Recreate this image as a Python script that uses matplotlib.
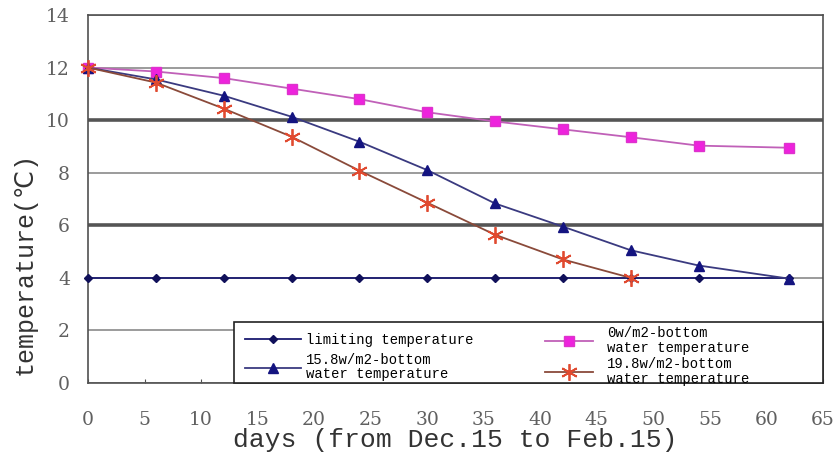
import matplotlib
matplotlib.use("Agg")
import matplotlib.pyplot as plt
from matplotlib.patches import Rectangle

# Days since Dec. 15 at which the water temperature was evaluated
days = [0, 6, 12, 18, 24, 30, 36, 42, 48, 54, 62]

limiting_temp = [4, 4, 4, 4, 4, 4, 4, 4, 4, 4, 4]
bottom_0w = [12.0, 11.85, 11.6, 11.2, 10.8, 10.3, 9.95, 9.65, 9.35, 9.03, 8.95]
bottom_15_8w = [12.0, 11.55, 10.93, 10.13, 9.18, 8.1, 6.83, 5.95, 5.05, 4.47, 3.97]
days_19_8w = [0, 6, 12, 18, 24, 30, 36, 42, 48]
bottom_19_8w = [12.0, 11.43, 10.44, 9.37, 8.08, 6.86, 5.64, 4.7, 4.0]

labels = [
    "limiting temperature",
    "0w/m2-bottom\nwater temperature",
    "15.8w/m2-bottom\nwater temperature",
    "19.8w/m2-bottom\nwater temperature",
]

x_ticks = list(range(0, 70, 5))
y_ticks = list(range(0, 16, 2))
heavy_grid = [6, 10]

MONO = ["Liberation Mono", "DejaVu Sans"]
SERIF = ["DejaVu Serif"]

fig = plt.figure(figsize=(8.36, 4.57), dpi=100)
ax = fig.add_axes([88 / 836, 1 - 383 / 457, 735 / 836, 368 / 457])

l_lim, = ax.plot(days, limiting_temp, color="#1a1a70", lw=1.3, marker="D",
                 ms=4.5, mfc="#10105a", mec="#10105a", clip_on=False, zorder=3)
l_0w, = ax.plot(days, bottom_0w, color="#c060b8", lw=1.3, marker="s",
                ms=7, mfc="#ee22dd", mec="#dd33cc", clip_on=False, zorder=3)
l_158, = ax.plot(days, bottom_15_8w, color="#3a3a80", lw=1.3, marker="^",
                 ms=6.5, mfc="#141480", mec="#141480", clip_on=False, zorder=3)
l_198, = ax.plot(days_19_8w, bottom_19_8w, color="#8a4a3a", lw=1.3,
                 marker=(6, 2, 0), ms=12, mec="#e04a30", mew=1.3,
                 clip_on=False, zorder=3)

ax.set_xlim(0, 65)
ax.set_ylim(0, 14)
ax.set_xticks(x_ticks)
ax.set_yticks(y_ticks)

ax.grid(axis="y", color="#8a8a8a", lw=1.2)
ax.set_axisbelow(True)
for val, gl in zip(ax.get_yticks(), ax.get_ygridlines()):
    if val in heavy_grid:
        gl.set_linewidth(2.6)
        gl.set_color("#555555")

for s in ax.spines.values():
    s.set_color("#505050")
    s.set_linewidth(1.2)

ax.tick_params(axis="x", direction="in", length=3, pad=20, colors="#505050",
               labelsize=13.5, labelcolor="#606060")
ax.tick_params(axis="y", length=0, pad=13, labelsize=13.5,
               labelcolor="#606060")
for t in ax.get_xticklabels() + ax.get_yticklabels():
    t.set_family(SERIF)

ax.set_xlabel("days (from Dec.15 to Feb.15)", family=MONO, fontsize=19,
              color="#333333", va="center")
ax.xaxis.set_label_coords(0.5, (383 - 440) / 368)
ax.set_ylabel("temperature(℃)", family=MONO, fontsize=18, color="#333333",
              va="center")
ax.yaxis.set_label_coords((25 - 88) / 735, (383 - 263) / 368)

# Legend frame spanning the lower right of the plot area
frame = Rectangle(((234 - 88) / 735, 0), (823 - 234) / 735, (383 - 322) / 368,
                  transform=ax.transAxes, fc="white", ec="#222222", lw=1.2,
                  zorder=5, clip_on=False)
ax.add_patch(frame)

common = dict(frameon=False, loc="upper left", borderpad=0, borderaxespad=0,
              numpoints=1, prop={"family": MONO, "size": 10})
leg1 = ax.legend([l_lim, l_158], [labels[0], labels[2]],
                 bbox_to_anchor=((245 - 88) / 735, (383 - 333) / 368),
                 handlelength=4.0, handletextpad=0.36, labelspacing=0.45,
                 **common)
leg1.set_zorder(6)
for t in leg1.get_texts():
    t.set_linespacing(0.95)
ax.add_artist(leg1)
leg2 = ax.legend([l_0w, l_198], [labels[1], labels[3]],
                 bbox_to_anchor=((545 - 88) / 735, (383 - 326) / 368),
                 handlelength=3.45, handletextpad=1.0, labelspacing=0.12,
                 **common)
leg2.set_zorder(6)
for t in leg2.get_texts():
    t.set_linespacing(1.1)

fig.savefig("out.png", dpi=100)
